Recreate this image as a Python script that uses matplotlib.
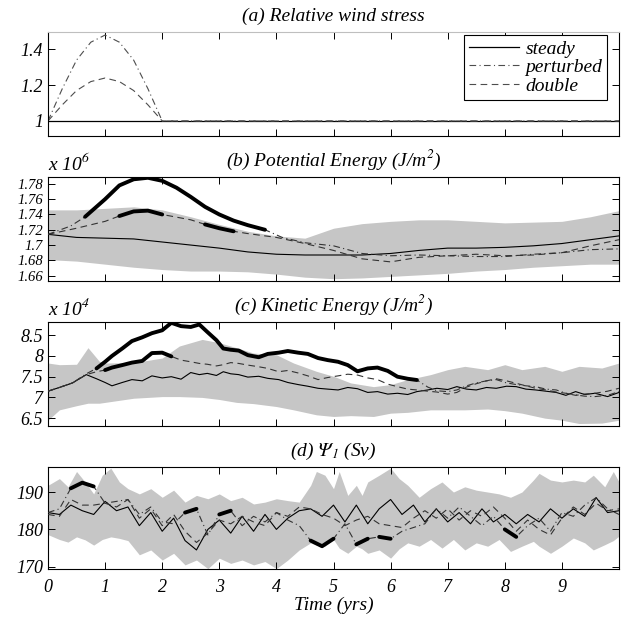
import numpy as np
import matplotlib as mpl
import matplotlib.pyplot as plt

mpl.rcParams.update({
    "font.family": "Liberation Serif",
    "font.style": "italic",
    "mathtext.fontset": "stix",
    "font.size": 12,
})

# ---- (a) relative wind stress ----
wind_t = [0, 0.25, 0.5, 0.75, 1.0, 1.25, 1.5, 1.75, 2.0, 10]
wind_steady = [1, 1, 1, 1, 1, 1, 1, 1, 1, 1]
wind_pert = [1.00, 1.18, 1.34, 1.44, 1.48, 1.44, 1.34, 1.18, 1.00, 1.00]
wind_double = [1.00, 1.09, 1.17, 1.22, 1.24, 1.22, 1.17, 1.09, 1.00, 1.00]

# ---- (b) potential energy (x 1e6 J/m^2) ----
pe_band_t = [0, 0.5, 1, 1.5, 2, 2.5, 3, 3.5, 4, 4.5, 5, 5.5, 6, 6.5, 7, 7.5, 8, 8.5, 9, 9.5, 10]
pe_band_hi = [1.746, 1.746, 1.748, 1.750, 1.746, 1.737, 1.727, 1.718, 1.712, 1.709, 1.722,
              1.728, 1.731, 1.733, 1.733, 1.731, 1.729, 1.730, 1.731, 1.737, 1.745]
pe_band_lo = [1.681, 1.679, 1.675, 1.671, 1.668, 1.666, 1.666, 1.665, 1.662, 1.658, 1.656,
              1.657, 1.659, 1.661, 1.663, 1.666, 1.668, 1.671, 1.673, 1.675, 1.675]

pe_st_t = [0, 0.5, 1, 1.5, 2, 2.5, 3, 3.5, 4, 4.5, 5, 5.5, 6, 6.5, 7, 7.5, 8, 8.5, 9, 9.5, 10]
pe_st = [1.714, 1.710, 1.709, 1.708, 1.704, 1.700, 1.696, 1.691, 1.688, 1.687, 1.687,
         1.687, 1.689, 1.693, 1.696, 1.696, 1.697, 1.699, 1.702, 1.707, 1.712]

pe_pert_t = [0, 0.4, 0.65, 1.0, 1.25, 1.5, 1.75, 2.0, 2.25, 2.5, 2.75, 3.0, 3.25, 3.5, 3.8,
             4.1, 4.5, 5.0, 5.5, 6.0, 6.5, 7.0, 7.5, 8.0, 8.5, 9.0, 9.5, 10]
pe_pert = [1.714, 1.725, 1.737, 1.760, 1.778, 1.786, 1.788, 1.784, 1.775, 1.763, 1.750,
           1.740, 1.732, 1.726, 1.720, 1.710, 1.703, 1.699, 1.689, 1.686, 1.687, 1.686,
           1.685, 1.685, 1.688, 1.690, 1.694, 1.695]
pe_pert_sig = [(0.65, 3.8)]

pe_dbl_t = [0, 0.5, 1.0, 1.25, 1.5, 1.75, 2.0, 2.5, 2.75, 3.0, 3.25, 3.5, 4.0, 4.5, 5.0,
            5.5, 6.0, 6.5, 7.0, 7.5, 8.0, 8.5, 9.0, 9.5, 10]
pe_dbl = [1.714, 1.722, 1.731, 1.738, 1.744, 1.745, 1.740, 1.733, 1.727, 1.722, 1.718,
          1.715, 1.710, 1.702, 1.693, 1.682, 1.678, 1.684, 1.686, 1.688, 1.686, 1.687,
          1.690, 1.699, 1.707]
pe_dbl_sig = [(1.25, 2.0), (2.75, 3.25)]

# ---- (c) kinetic energy (x 1e4 J/m^2) ----
ke_band_t = [0, 0.2, 0.5, 0.7, 0.9, 1.0, 1.5, 2.0, 2.3, 2.7, 3.0, 3.3, 3.6, 4.0, 4.3, 4.7,
             5.0, 5.3, 5.7, 6.0, 6.3, 6.7, 7.0, 7.3, 7.7, 8.0, 8.3, 8.7, 9.0, 9.3, 9.7, 10.0]
ke_band_hi = [7.83, 7.79, 7.80, 8.20, 7.87, 7.83, 7.84, 7.95, 8.24, 8.40, 8.32, 8.20, 8.07,
              8.03, 7.83, 7.63, 7.51, 7.35, 7.26, 7.31, 7.43, 7.55, 7.67, 7.75, 7.67, 7.79,
              7.67, 7.75, 7.63, 7.75, 7.71, 7.83]
ke_band_lo = [6.45, 6.70, 6.80, 6.86, 6.86, 6.88, 6.98, 7.02, 7.02, 7.00, 6.95, 6.88, 6.85,
              6.78, 6.70, 6.58, 6.54, 6.56, 6.54, 6.62, 6.64, 6.70, 6.70, 6.70, 6.72, 6.68,
              6.62, 6.50, 6.45, 6.37, 6.38, 6.45]

ke_t = [0, 0.2, 0.43, 0.67, 0.85, 1.0, 1.12, 1.3, 1.47, 1.65,
        1.82, 2.0, 2.16, 2.33, 2.5, 2.65, 2.79, 2.95, 3.07, 3.2,
        3.34, 3.5, 3.69, 3.85, 4.04, 4.2, 4.38, 4.55, 4.73, 4.9,
        5.08, 5.25, 5.42, 5.6, 5.77, 5.95, 6.12, 6.3, 6.46, 6.65,
        6.81, 7.0, 7.16, 7.33, 7.5, 7.68, 7.85, 8.03, 8.2, 8.37,
        8.54, 8.72, 8.9, 9.07, 9.24, 9.4, 9.58, 9.8, 10]
ke_st = [7.15, 7.24, 7.35, 7.55, 7.45, 7.36, 7.28, 7.36, 7.43, 7.40,
         7.52, 7.47, 7.50, 7.44, 7.60, 7.55, 7.58, 7.53, 7.62, 7.57,
         7.55, 7.49, 7.51, 7.46, 7.43, 7.36, 7.31, 7.27, 7.22, 7.20,
         7.18, 7.24, 7.21, 7.12, 7.14, 7.08, 7.10, 7.07, 7.14, 7.18,
         7.22, 7.19, 7.26, 7.20, 7.18, 7.24, 7.22, 7.27, 7.26, 7.20,
         7.18, 7.15, 7.12, 7.05, 7.14, 7.07, 7.10, 7.02, 7.12]
ke_pert = [7.15, 7.24, 7.35, 7.57, 7.70, 7.86, 8.00, 8.18, 8.36, 8.45,
           8.55, 8.62, 8.80, 8.72, 8.70, 8.76, 8.58, 8.38, 8.18, 8.15,
           8.13, 8.02, 7.97, 8.05, 8.08, 8.12, 8.08, 8.05, 7.95, 7.90,
           7.86, 7.78, 7.63, 7.70, 7.72, 7.64, 7.50, 7.45, 7.42, 7.25,
           7.16, 7.14, 7.18, 7.28, 7.35, 7.40, 7.43, 7.35, 7.31, 7.28,
           7.26, 7.20, 7.18, 7.10, 7.06, 7.03, 7.02, 7.05, 7.14]
ke_pert_sig = [(0.85, 6.46)]
ke_dbl = [7.15, 7.24, 7.35, 7.55, 7.62, 7.66, 7.72, 7.78, 7.84, 7.88,
          8.07, 8.08, 7.99, 7.90, 7.86, 7.82, 7.80, 7.76, 7.79, 7.84,
          7.82, 7.78, 7.74, 7.70, 7.62, 7.65, 7.59, 7.52, 7.43, 7.48,
          7.52, 7.56, 7.54, 7.47, 7.43, 7.32, 7.26, 7.20, 7.18, 7.15,
          7.13, 7.08, 7.12, 7.25, 7.33, 7.40, 7.45, 7.40, 7.34, 7.28,
          7.22, 7.18, 7.13, 7.10, 7.05, 7.08, 7.10, 7.15, 7.22]
ke_dbl_sig = [(1.0, 2.16)]

# ---- (d) psi_1 (Sv) ----
psi_band_t = [0, 0.2, 0.35, 0.5, 0.65, 0.8, 0.95, 1.1, 1.25, 1.4, 1.6, 1.8, 2.0, 2.2, 2.4,
              2.6, 2.8, 3.0, 3.2, 3.4, 3.6, 3.8, 4.0, 4.2, 4.4, 4.6, 4.7, 4.85, 5.0, 5.1,
              5.25, 5.4, 5.5, 5.6, 5.8, 6.0, 6.15, 6.3, 6.5, 6.7, 6.9, 7.1, 7.3, 7.5, 7.7,
              7.9, 8.1, 8.3, 8.5, 8.6, 8.8, 9.0, 9.2, 9.4, 9.55, 9.75, 9.9, 10]
psi_band_hi = [191.8, 193.6, 191.4, 195.5, 192.7, 189.5, 194.5, 196.4, 192.7, 190.9, 189.5,
               190.9, 188.6, 190.5, 187.3, 189.1, 188.2, 189.5, 187.7, 188.6, 186.8, 187.3,
               188.2, 187.7, 187.3, 191.8, 195.5, 194.5, 190.9, 195.5, 189.1, 191.8, 189.1,
               192.7, 194.5, 196.4, 193.6, 191.8, 188.6, 190.9, 192.7, 190.0, 191.4, 190.5,
               190.0, 189.5, 188.6, 190.0, 193.2, 195.0, 193.2, 192.7, 193.2, 192.7, 194.5,
               191.4, 195.5, 192.7]
psi_band_lo = [178.6, 177.3, 176.6, 178.0, 177.2, 175.8, 177.3, 178.0, 177.6, 177.0, 173.2,
               174.5, 171.8, 173.6, 170.5, 171.8, 169.5, 172.3, 170.9, 171.8, 170.5, 171.4,
               169.5, 171.8, 174.5, 176.4, 175.8, 175.5, 177.3, 175.0, 173.6, 175.5, 174.8,
               173.6, 174.5, 172.3, 174.8, 176.4, 175.5, 177.3, 175.0, 177.3, 174.5, 176.4,
               175.5, 177.3, 174.1, 175.5, 176.8, 175.5, 173.6, 175.5, 177.7, 176.4, 174.5,
               175.9, 177.0, 178.2]

psi_t = [0, 0.2, 0.4, 0.6, 0.8, 1.0, 1.2, 1.4, 1.6, 1.8,
         2.0, 2.2, 2.4, 2.6, 2.8, 3.0, 3.2, 3.4, 3.6, 3.8,
         4.0, 4.2, 4.4, 4.6, 4.8, 5.0, 5.2, 5.4, 5.6, 5.8,
         6.0, 6.2, 6.4, 6.6, 6.8, 7.0, 7.2, 7.4, 7.6, 7.8,
         8.0, 8.2, 8.4, 8.6, 8.8, 9.0, 9.2, 9.4, 9.6, 9.8, 10]
psi_st = [184.5, 184.0, 186.5, 185.0, 184.0, 187.5, 185.0, 186.0, 181.0, 184.5,
          179.5, 183.0, 177.0, 174.5, 180.0, 182.5, 179.0, 183.5, 179.5, 184.0,
          180.0, 183.0, 185.0, 185.5, 183.5, 186.5, 182.0, 186.5, 181.5, 185.5,
          188.0, 184.0, 186.5, 182.0, 185.5, 182.0, 184.5, 181.5, 185.5, 182.0,
          184.0, 181.5, 184.0, 182.0, 185.5, 183.0, 185.5, 183.5, 188.5, 184.5, 185.0]
psi_pert = [184.5, 185.5, 191.0, 192.5, 191.5, 187.0, 187.5, 188.0, 184.0, 186.0,
            182.0, 181.5, 184.5, 185.5, 178.5, 184.0, 185.0, 181.0, 183.5, 182.0,
            184.5, 182.5, 181.0, 177.0, 175.5, 177.5, 181.5, 176.0, 177.5, 178.0,
            177.5, 179.5, 180.5, 181.5, 185.5, 183.0, 186.0, 183.5, 181.0, 183.5,
            180.0, 178.0, 181.0, 183.0, 179.5, 184.5, 183.5, 186.5, 188.5, 185.5, 184.0]
psi_pert_sig = [(0.4, 0.8), (2.4, 2.6), (3.0, 3.2), (4.6, 5.0), (5.4, 5.6), (5.8, 6.0), (8.0, 8.2)]
psi_dbl = [184.0, 183.5, 188.0, 186.5, 186.5, 187.0, 186.0, 188.0, 183.0, 185.5,
           181.0, 184.0, 179.5, 176.5, 179.0, 182.5, 181.5, 183.5, 182.0, 181.0,
           184.5, 183.5, 186.0, 185.5, 184.0, 183.0, 181.0, 182.5, 183.5, 181.5,
           181.0, 180.5, 183.0, 185.0, 183.0, 185.5, 182.5, 185.0, 183.5, 186.0,
           183.0, 179.5, 182.5, 180.0, 178.5, 183.0, 186.0, 184.0, 187.0, 185.0, 185.5]

band_color = "#c6c6c6"
dashdot = (0, (6, 3, 1, 3))
dashed = (0, (6, 4))


def thick(ax, t, y, spans):
    # heavy line where the response leaves the ensemble spread
    t = np.asarray(t)
    y = np.asarray(y)
    for a, b in spans:
        m = (t >= a - 1e-9) & (t <= b + 1e-9)
        ax.plot(t[m], y[m], color="k", lw=2.8, solid_capstyle="round", zorder=4)


def style(ax, ysize=13):
    ax.set_xlim(0, 10)
    ax.set_xticks(range(10))
    ax.tick_params(axis="both", direction="in", top=True, right=True,
                   length=5, width=0.7, labelsize=13)
    ax.tick_params(axis="y", labelsize=ysize)
    for lab in ax.get_xticklabels() + ax.get_yticklabels():
        lab.set_fontstyle("italic")
    for s in ax.spines.values():
        s.set_linewidth(0.8)


fig = plt.figure(figsize=(6.21, 6.21), dpi=100)
L, W = 48 / 621, 571 / 621
ax_a = fig.add_axes([L, 1 - 136 / 621, W, 104 / 621])
ax_b = fig.add_axes([L, 1 - 281 / 621, W, 104 / 621])
ax_c = fig.add_axes([L, 1 - 426 / 621, W, 104 / 621])
ax_d = fig.add_axes([L, 1 - 569 / 621, W, 102 / 621])

# (a)
ax_a.plot(wind_t, wind_steady, "k-", lw=0.9, label="steady")
ax_a.plot(wind_t, wind_pert, color="0.3", ls=dashdot, lw=0.8, label="perturbed")
ax_a.plot(wind_t, wind_double, color="0.3", ls=dashed, lw=0.8, label="double")
ax_a.set_ylim(0.916, 1.497)
ax_a.set_yticks([1, 1.2, 1.4])
ax_a.set_yticklabels(["1", "1.2", "1.4"])
style(ax_a)
ax_a.set_xticklabels([])
ax_a.spines["top"].set_color("0.75")
ax_a.set_title("(a) Relative wind stress", fontsize=14, pad=8)
leg = ax_a.legend(loc="upper right", bbox_to_anchor=(0.979, 0.97), borderaxespad=0,
                  fontsize=14, frameon=True, fancybox=False, framealpha=1, edgecolor="k",
                  handlelength=2.6, borderpad=0.25, labelspacing=0.05, handletextpad=0.3)
leg.get_frame().set_linewidth(0.8)

# (b)
ax_b.fill_between(pe_band_t, pe_band_lo, pe_band_hi, color=band_color, lw=0, zorder=1)
ax_b.plot(pe_st_t, pe_st, "k-", lw=0.8, zorder=3)
ax_b.plot(pe_pert_t, pe_pert, color="0.2", ls=dashdot, lw=0.8, zorder=3)
ax_b.plot(pe_dbl_t, pe_dbl, color="0.2", ls=dashed, lw=0.8, zorder=3)
thick(ax_b, pe_pert_t, pe_pert, pe_pert_sig)
thick(ax_b, pe_dbl_t, pe_dbl, pe_dbl_sig)
ax_b.set_ylim(1.653, 1.789)
yb = [1.66, 1.68, 1.70, 1.72, 1.74, 1.76, 1.78]
ax_b.set_yticks(yb)
ax_b.set_yticklabels(["1.66", "1.68", "1.7", "1.72", "1.74", "1.76", "1.78"])
style(ax_b, ysize=10.5)
ax_b.set_xticklabels([])
ax_b.set_title("(b) Potential Energy (J/m$^2$)", fontsize=14, pad=8)
ax_b.text(0, 1.03, "x 10$^6$", transform=ax_b.transAxes, fontsize=14, va="bottom", ha="left")

# (c)
ax_c.fill_between(ke_band_t, ke_band_lo, ke_band_hi, color=band_color, lw=0, zorder=1)
ax_c.plot(ke_t, ke_st, "k-", lw=0.8, zorder=3)
ax_c.plot(ke_t, ke_pert, color="0.2", ls=dashdot, lw=0.8, zorder=3)
ax_c.plot(ke_t, ke_dbl, color="0.2", ls=dashed, lw=0.8, zorder=3)
thick(ax_c, ke_t, ke_pert, ke_pert_sig)
thick(ax_c, ke_t, ke_dbl, ke_dbl_sig)
ax_c.set_ylim(6.31, 8.82)
ax_c.set_yticks([6.5, 7, 7.5, 8, 8.5])
ax_c.set_yticklabels(["6.5", "7", "7.5", "8", "8.5"])
style(ax_c)
ax_c.set_xticklabels([])
ax_c.set_title("(c) Kinetic Energy (J/m$^2$)", fontsize=14, pad=8)
ax_c.text(0, 1.03, "x 10$^4$", transform=ax_c.transAxes, fontsize=14, va="bottom", ha="left")

# (d)
ax_d.fill_between(psi_band_t, psi_band_lo, psi_band_hi, color=band_color, lw=0, zorder=1)
ax_d.plot(psi_t, psi_st, "k-", lw=0.8, zorder=3)
ax_d.plot(psi_t, psi_pert, color="0.2", ls=dashdot, lw=0.8, zorder=3)
ax_d.plot(psi_t, psi_dbl, color="0.2", ls=dashed, lw=0.8, zorder=3)
thick(ax_d, psi_t, psi_pert, psi_pert_sig)
ax_d.set_ylim(169.4, 196.7)
ax_d.set_yticks([170, 180, 190])
ax_d.set_xticks(range(10))
ax_d.set_xticklabels([str(i) for i in range(10)])
style(ax_d)
ax_d.tick_params(axis="x", pad=7)
ax_d.set_title(r"(d) $\Psi_1$ (Sv)", fontsize=14, pad=8)
ax_d.set_xlabel("Time (yrs)", fontsize=14, labelpad=1)

plt.savefig("out.png", dpi=100)
